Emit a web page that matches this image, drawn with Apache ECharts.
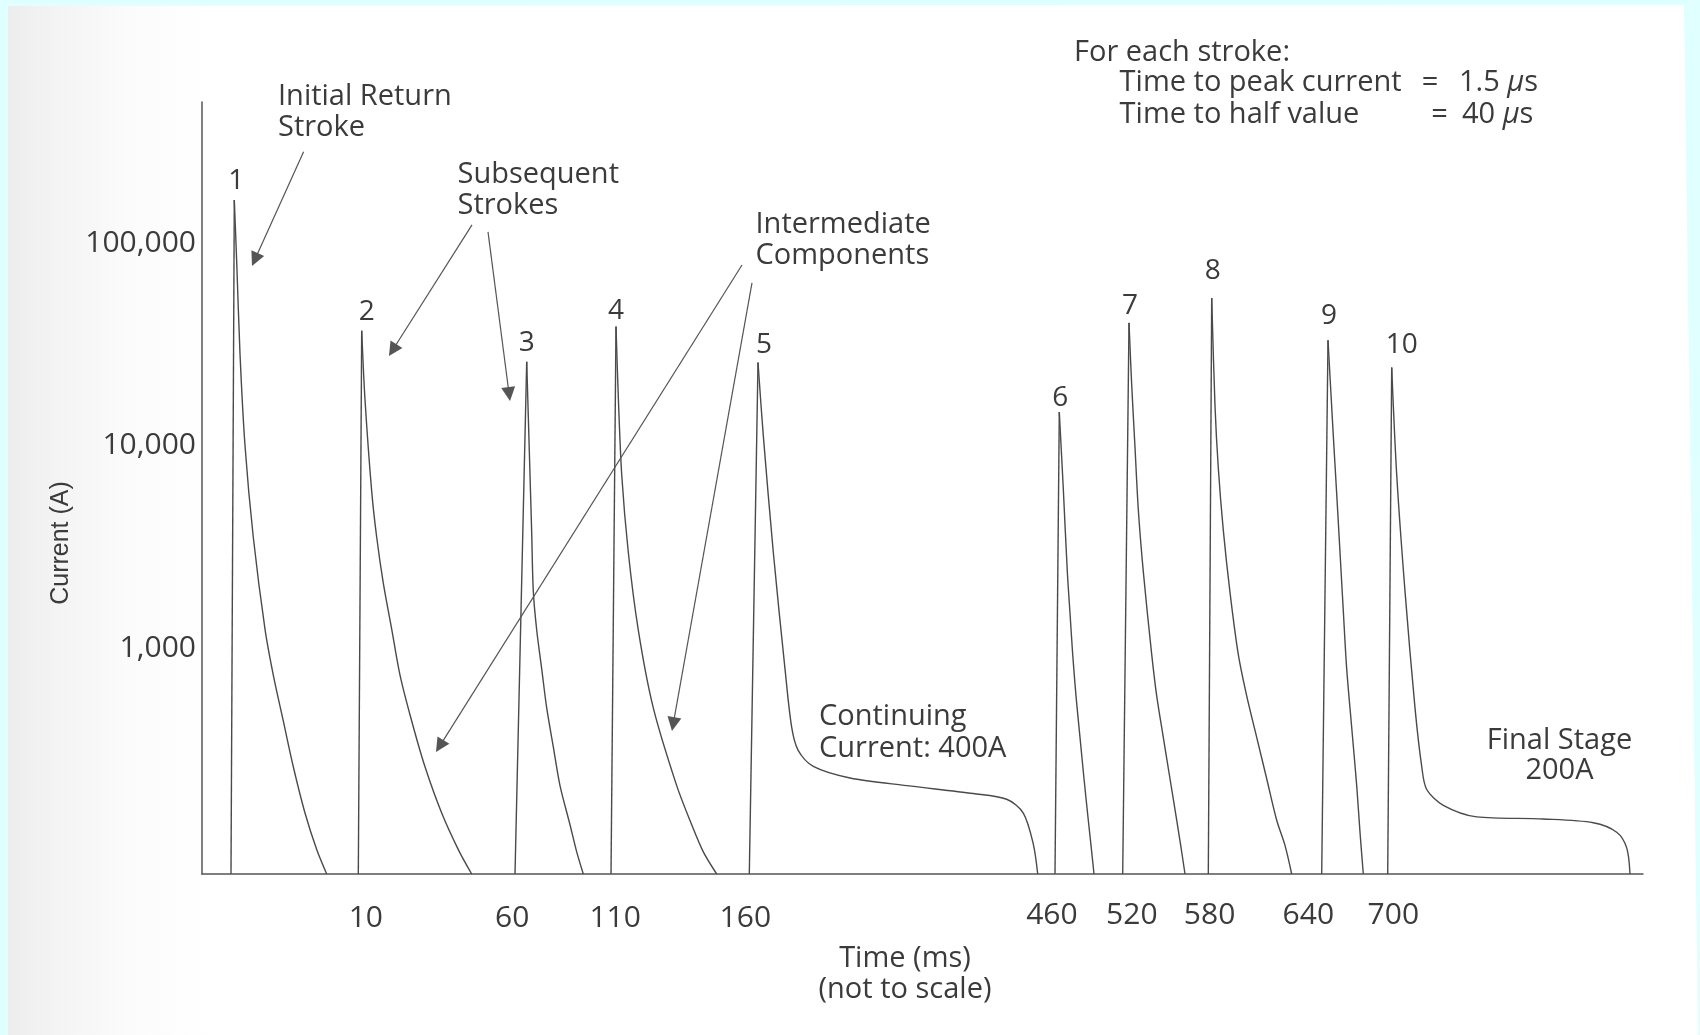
<!DOCTYPE html>
<html><head><meta charset="utf-8">
<script src="https://cdn.jsdelivr.net/npm/echarts@6/dist/echarts.min.js"></script>
<style>html,body{margin:0;padding:0;background:#e0ffff}#c{width:1700px;height:1035px}</style>
</head><body><div id="c"></div><script>
// ---------- DATA (x = position along the "not to scale" time axis, y = current in A) ----------
const BASE = 76.5;                       // floor of the log current axis (A)
const strokeNames = ['1','2','3','4','5','6','7','8','9','10'];
const riseStart = [29, 156.3, 313, 409, 547.3, 853, 920.7, 1006.3, 1119.7, 1185.7];
const stroke1  = [[32.3,163000],[34.7,80750],[38,28400],[43,10000],[51.3,3520],[63,1240],[71.3,735],[81.3,436],[91.3,259],[103,153],[114.7,101],[124.7,76.5]];
const stroke2  = [[159.7,36900],[163,16860],[169.7,5934],[174.7,3521],[181.3,2089],[189.7,1240],[198,735],[209.7,436],[223,259],[239.7,153],[256.3,101],[269.7,76.5]];
const stroke3  = [[324.7,25940],[326.3,13960],[328,7193],[329.7,3702],[331.3,1908],[334.7,1226],[339.7,788],[344.7,506],[351.3,325],[358,209],[368,134],[374.7,98.4],[381.3,76.5]];
const stroke4  = [[414,38640],[416.3,17420],[419.7,7193],[426.3,2970],[436.3,1226],[451.3,506],[474.7,209],[489.7,134],[501.3,98.4],[514.7,76.5]];
const stroke5  = [[556,25700],[561.3,11190],[571.3,2970],[583,788],[589.7,405],[596.3,311],[611.3,260],[648,228],[704.7,209],[771.3,191],[804.7,179],[821.3,153],[831.3,107.5],[835.7,76.5]];
const stroke6  = [[857.3,14640],[861.3,6118],[865.3,2384],[868,1487],[870.7,929],[874,580],[878,362],[882,226],[886.3,141],[889,106],[892,76.5]];
const stroke7  = [[927,40320],[929.7,19880],[933,9800],[936.3,4831],[941.3,2384],[949.7,929],[954.7,580],[961.3,362],[968,226],[974.7,141],[978.7,106],[983,76.5]];
const stroke8  = [[1009.7,53530],[1013,15710],[1016.3,7745],[1021.3,3817],[1028,1883],[1036.3,929],[1044.7,580],[1054.7,362],[1064.7,226],[1074.7,141],[1083,106],[1089.7,76.5]];
const stroke9  = [[1126,33090],[1131.3,11190],[1134.7,5762],[1138,2970],[1141.3,1528],[1144.7,788],[1149.7,405],[1154.7,209],[1158,123],[1161.3,76.5]];
const stroke10 = [[1189.7,24290],[1194.7,7193],[1203,1908],[1213,506],[1219.7,260],[1224.7,200],[1241.3,167],[1274.7,146.5],[1341.3,143],[1391.3,137],[1414.7,123],[1424.7,103],[1428,76.5]];
const xTickPos    = [163.8, 310.2, 413.2, 543.3, 849.9, 929.8, 1007.6, 1106.3, 1191.3];
const xTickLabels = ['10','60','110','160','460','520','580','640','700'];
const yTickValues = [1000, 10000, 100000];
const yTickLabels = ['1,000','10,000','100,000'];
// annotation arrows: [tail, arrow-head] in data coordinates
const arrows = [
  [[101.6, 282500], [52.9, 82820]],
  [[270, 122800], [190.7, 29600]],
  [[286, 113400], [307.1, 17950]],
  [[540, 77900], [237.7, 327.7]],
  [[550, 63480], [471.2, 421]]
];

// ---------- STYLE ----------
const FONT = "'Open Sans', 'Liberation Sans', Arial, sans-serif";
const NAMEFONT = "'Liberation Sans', Arial, sans-serif";
const TXT = '#3b3b3b';
const LINE = '#4a4a4a';
const labelOffsets = [[2,0],[5,0],[0,0],[0,3],[6,2],[1,5],[1,2],[1,-8],[1,-5],[10,-3]];

const strokes = [stroke1,stroke2,stroke3,stroke4,stroke5,stroke6,stroke7,stroke8,stroke9,stroke10];
const series = [];
strokes.forEach((d, i) => {
  series.push({
    type: 'line', name: 'rise ' + strokeNames[i], silent: true, animation: false,
    data: [[riseStart[i], BASE], d[0]], symbol: 'none',
    lineStyle: { color: LINE, width: 1.4 }, emphasis: { disabled: true }, z: 3
  });
  series.push({
    type: 'line', name: 'stroke ' + strokeNames[i], silent: true, animation: false,
    smooth: 0.3, symbol: 'circle', symbolSize: 0, showSymbol: true,
    itemStyle: { color: LINE },
    data: d.map((p, j) => j === 0 ? {
      value: p,
      label: { show: true, formatter: strokeNames[i], position: 'top', distance: 5,
        offset: labelOffsets[i], fontSize: 28, fontFamily: FONT, color: TXT }
    } : p),
    lineStyle: { color: LINE, width: 1.4 }, emphasis: { disabled: true }, z: 3,
    markLine: i === 0 ? {
      silent: true, animation: false, symbol: ['none', 'triangle'], symbolSize: 14,
      lineStyle: { color: '#555', width: 1.2, type: 'solid', opacity: 1 },
      itemStyle: { color: '#444', opacity: 1 },
      label: { show: false }, emphasis: { disabled: true },
      data: arrows.map(a => [{ coord: a[0] }, { coord: a[1] }])
    } : undefined
  });
});

function txt(text, x, y, align) {
  return {
    type: 'text', z: 100, silent: true,
    style: { text: text, x: x, y: y, align: align || 'left', verticalAlign: 'middle',
      font: '29px ' + FONT, fill: TXT }
  };
}
const richMu = { i: { fontStyle: 'italic', fontSize: 29, fontFamily: FONT, fill: TXT } };

const chart = echarts.init(document.getElementById('c'), null, { renderer: 'canvas' });
chart.setOption({
  animation: false,
  backgroundColor: '#e0ffff',
  grid: { left: 202, right: 57, top: 102, bottom: 161, containLabel: false, outerBoundsMode: 'none' },
  xAxis: {
    type: 'value', min: 0, max: 1441,
    name: 'Time (ms)\n(not to scale)', nameLocation: 'middle', nameGap: 69,
    nameTextStyle: { fontSize: 29, fontFamily: FONT, color: TXT, lineHeight: 31, padding: [0, 35, 0, 0] },
    axisLine: { show: true, lineStyle: { color: '#555', width: 1.5 } },
    axisTick: { show: false }, splitLine: { show: false },
    axisLabel: {
      customValues: xTickPos, margin: 26, color: TXT,
      formatter: v => {
        const i = xTickPos.findIndex(p => Math.abs(p - v) < 0.01);
        if (i < 0) return '';
        return (i < 4 ? '{lo|' : '{hi|') + xTickLabels[i] + '}';
      },
      rich: {
        lo: { fontSize: 30, fontFamily: FONT, color: TXT, lineHeight: 30, padding: [6, 0, 0, 0] },
        hi: { fontSize: 30, fontFamily: FONT, color: TXT, lineHeight: 30 }
      }
    }
  },
  yAxis: {
    type: 'log', logBase: 10, min: BASE, max: 497000,
    name: 'Current (A)', nameLocation: 'middle', nameGap: 128,
    nameTextStyle: { fontSize: 25, fontFamily: NAMEFONT, color: TXT, padding: [0, 110, 0, 0] },
    axisLine: { show: true, lineStyle: { color: '#555', width: 1.5 } },
    axisTick: { show: false }, splitLine: { show: false }, minorTick: { show: false },
    axisLabel: {
      margin: 6, fontSize: 30, fontFamily: FONT, color: TXT,
      formatter: v => {
        const i = yTickValues.findIndex(t => Math.abs(t - v) / t < 1e-6);
        return i < 0 ? '' : yTickLabels[i];
      }
    }
  },
  graphic: [
    { type: 'polygon', z: -100, silent: true,
      shape: { points: [[8, 6], [1684, 5], [1698, 1035], [8, 1035]] },
      style: { fill: new echarts.graphic.LinearGradient(0, 0, 1, 0, [
        { offset: 0, color: '#ededed' }, { offset: 0.03, color: '#f4f4f4' },
        { offset: 0.07, color: '#fbfbfb' }, { offset: 0.12, color: '#ffffff' }, { offset: 1, color: '#ffffff' }]) } },
    txt('Initial Return', 278, 97), txt('Stroke', 278, 128),
    txt('Subsequent', 457.5, 174.5), txt('Strokes', 457.5, 205.5),
    txt('Intermediate', 755.5, 225), txt('Components', 755.5, 256),
    txt('For each stroke:', 1074, 52.5),
    txt('Time to peak current', 1119.6, 83), txt('=', 1430, 83, 'center'),
    { type: 'text', z: 100, silent: true, style: { text: '1.5 {i|\u03bc}s', x: 1459, y: 83, verticalAlign: 'middle', font: '29px ' + FONT, fill: TXT, rich: richMu } },
    txt('Time to half value', 1119.6, 115), txt('=', 1439.5, 115, 'center'),
    { type: 'text', z: 100, silent: true, style: { text: '40 {i|\u03bc}s', x: 1462, y: 115, verticalAlign: 'middle', font: '29px ' + FONT, fill: TXT, rich: richMu } },
    txt('Continuing', 819, 716.7), txt('Current: 400A', 819, 748.5),
    txt('Final Stage', 1559.5, 741, 'center'), txt('200A', 1559.5, 771, 'center')
  ],
  series: series
});
</script></body></html>
